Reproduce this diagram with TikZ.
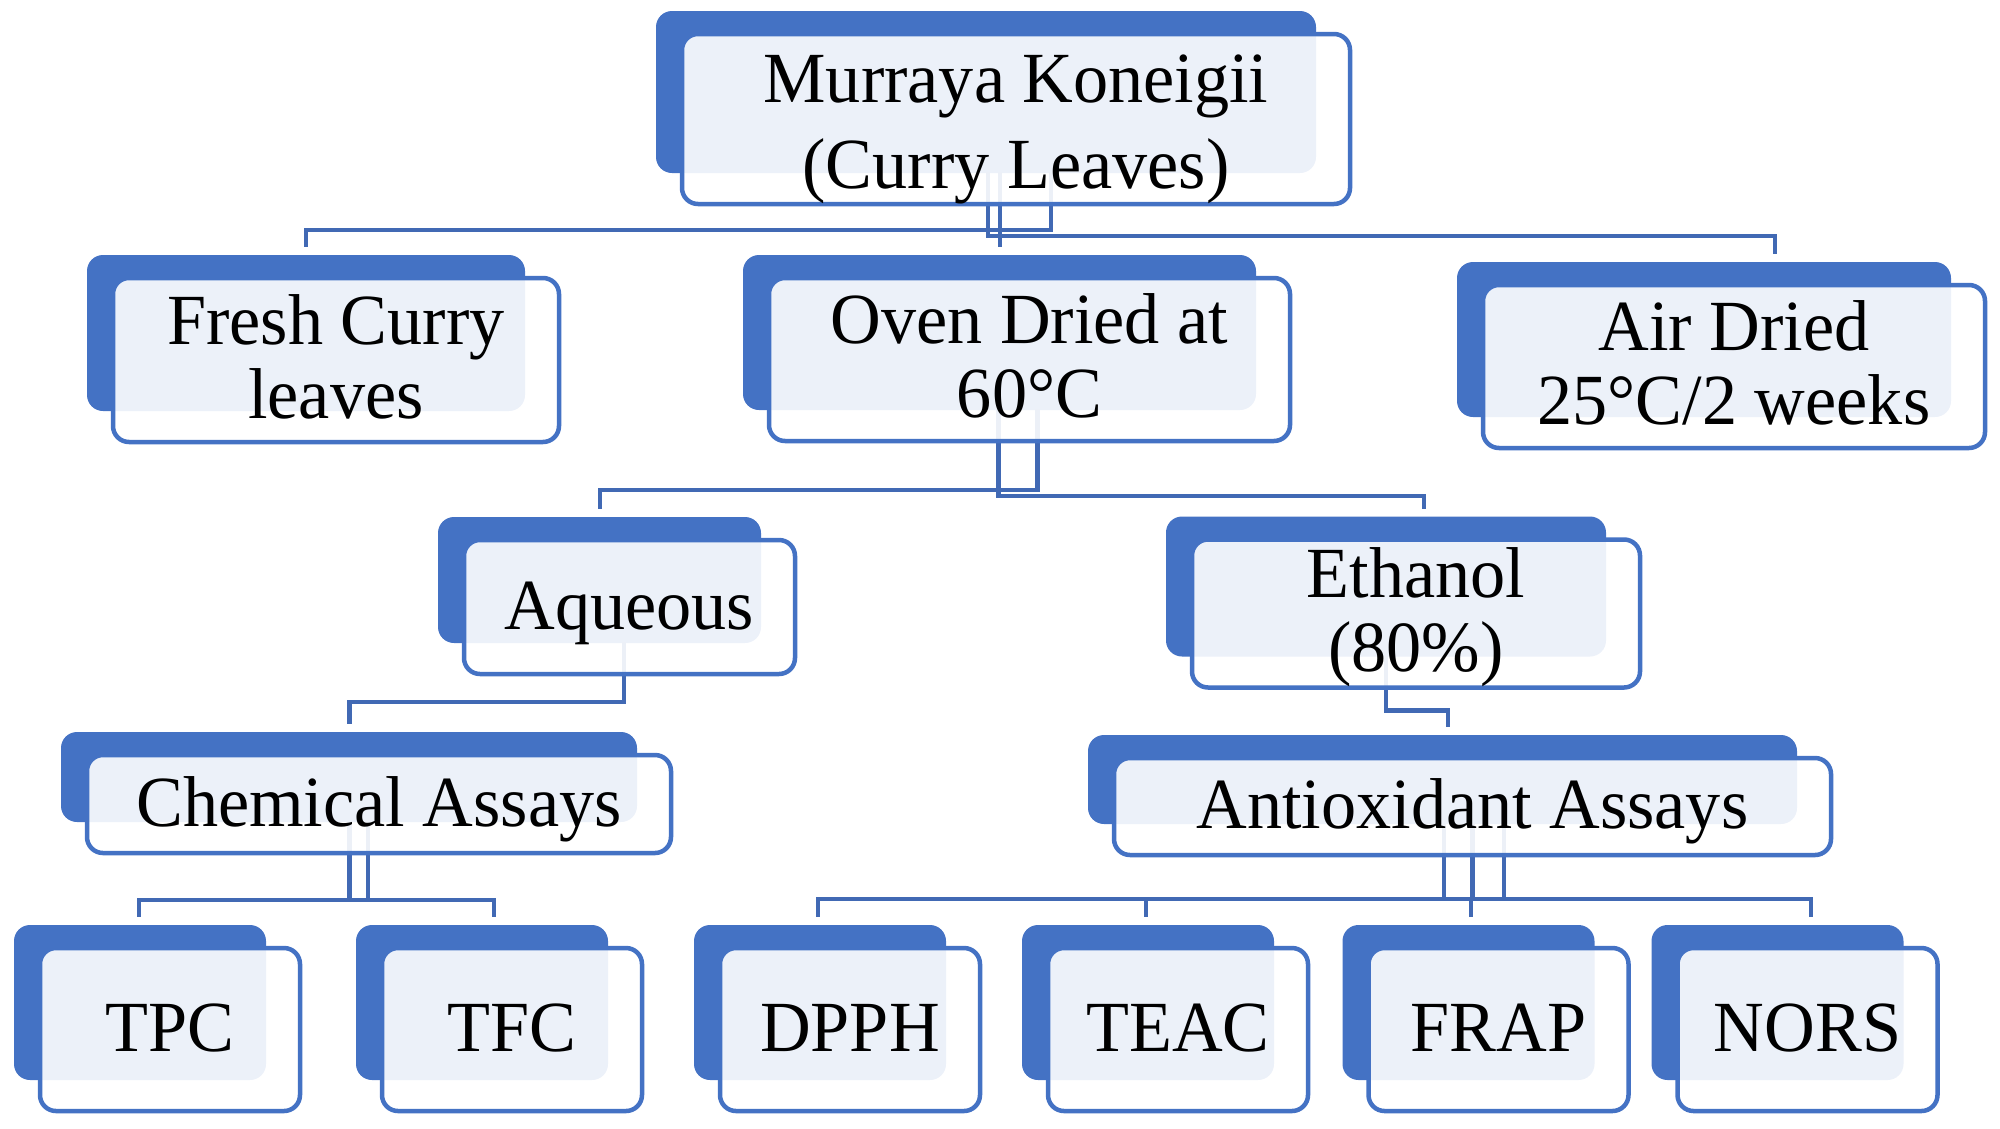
\documentclass[tikz,border=0pt]{standalone}
\usepackage{fontspec}
\setmainfont[FakeStretch=0.975]{Liberation Serif}
\usepackage{tikz}
\usetikzlibrary{calc,backgrounds}
\definecolor{accent}{HTML}{4472C4}
\definecolor{wire}{HTML}{4169B4}
\tikzset{
  card/.style={draw=accent, line width=4.5pt, rounded corners=16pt, fill=white, fill opacity=0.9, text opacity=1,
    inner sep=0pt, outer sep=0pt, align=center, font=\fontsize{72}{74}\selectfont,
    text height=60pt, text depth=16pt},
  twoline/.style={text height=132pt},
  slab/.style={fill=accent, rounded corners=16pt},
  link/.style={draw=wire, line width=4.5pt}
}

\begin{document}
\begin{tikzpicture}[x=1pt, y=-1pt]
\useasboundingbox (0,0) rectangle (2000,1128);

\node[card, minimum width=668, minimum height=166, font=\fontsize{72}{86}\selectfont, text height=154pt] (top) at (1016,119) {Murraya Koneigii\\(Curry Leaves)};

\node[card, twoline, minimum width=446, minimum height=164] (fresh) at (336,360) {Fresh Curry\\leaves};
\node[card, twoline, minimum width=521, minimum height=163] (oven) at (1029.5,359.5) {Oven Dried at\\60°C};
\node[card, twoline, minimum width=502, minimum height=163] (air) at (1734,366.5) {Air Dried\\25°C/2 weeks};

\node[card, minimum width=331, minimum height=134] (aqueous) at (629.5,607) {Aqueous};
\node[card, twoline, minimum width=448, minimum height=137] (ethanol) at (1416,613.5) {Ethanol\\(80\%)};

\node[card, minimum width=584, minimum height=98] (chem) at (379,804) {Chemical Assays};
\node[card, minimum width=717, minimum height=97] (antiox) at (1472.5,806.5) {Antioxidant Assays};

\node[card, minimum width=260, minimum height=163] (tpc) at (170,1029.5) {TPC};
\node[card, minimum width=260, minimum height=163] (tfc) at (512,1029.5) {TFC};
\node[card, minimum width=260, minimum height=163] (dpph) at (850,1029.5) {DPPH};
\node[card, minimum width=260, minimum height=163] (teac) at (1178,1029.5) {TEAC};
\node[card, minimum width=260, minimum height=163] (frap) at (1498.5,1029.5) {FRAP};
\node[card, minimum width=260, minimum height=163] (nors) at (1807.5,1029.5) {NORS};

\begin{scope}[on background layer]
% dark slab behind each card
\foreach \n in {top,fresh,oven,air,aqueous,ethanol,chem,antiox,tpc,tfc,dpph,teac,frap,nors}
  \fill[slab] ($(\n.north west)+(-26,-23)$) rectangle ($(\n.south east)+(-34,-31)$);

% elbow links
\draw[link] ($(top.south)+(35,-32)$) -- ++(0,58) -| ($(fresh.north)+(-30,-31)$);
\draw[link] ($(top.south)+(-16,-32)$) -- ($(oven.north)+(-29.5,-31)$);
\draw[link] ($(top.south)+(-28,-32)$) -- ++(0,64) -| ($(air.north)+(41,-31)$);

\draw[link] ($(oven.south)+(8,-32)$) -- ++(0,81) -| ($(aqueous.north)+(-29.5,-31)$);
\draw[link] ($(oven.south)+(-31,-32)$) -- ++(0,87) -| ($(ethanol.north)+(8,-31)$);

\draw[link] ($(aqueous.south)+(-5.5,-32)$) -- ++(0,60) -| ($(chem.north)+(-29.5,-31)$);
\draw[link] ($(ethanol.south)+(-30,-32)$) -- ++(0,55) -| ($(antiox.north)+(-24.5,-31)$);

\draw[link] ($(chem.south)+(-11,-32)$) -- ++(0,79) -| ($(tpc.north)+(-31,-31)$);
\draw[link] ($(chem.south)+(-29.5,-32)$) -- ++(0,79) -| ($(tfc.north)+(-18,-31)$);

\draw[link] ($(antiox.south)+(-28.5,-32)$) -- ++(0,76) -| ($(dpph.north)+(-32,-31)$);
\draw[link] ($(antiox.south)+(0,-32)$) -- ++(0,76) -| ($(teac.north)+(-32,-31)$);
\draw[link] ($(antiox.south)+(31.5,-32)$) -- ++(0,76) -| ($(frap.north)+(-27.5,-31)$);
\draw[link] ($(antiox.south)+(-28.5,-32)$) -- ++(0,76) -| ($(nors.north)+(3.5,-31)$);
\end{scope}
\end{tikzpicture}
\end{document}
